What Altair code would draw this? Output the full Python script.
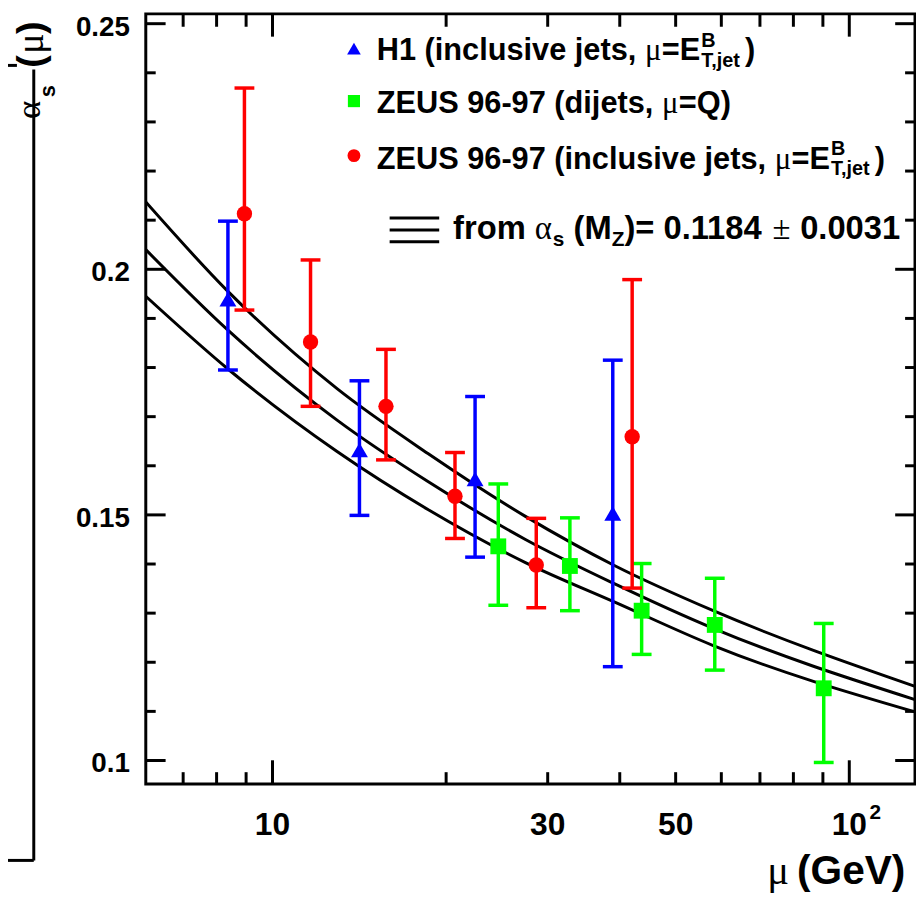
import altair as alt
import pandas as pd

# ---------------- data ----------------
# H1 inclusive jets (blue triangles)
h1_mu = [8.37, 14.15, 22.45, 38.9]
h1_as = [0.1939, 0.1632, 0.1573, 0.1503]
h1_lo = [0.1795, 0.1499, 0.1414, 0.1191]
h1_hi = [0.2098, 0.1773, 0.1741, 0.1815]

# ZEUS 96-97 dijets (green squares)
zd_mu = [24.63, 32.78, 43.65, 58.45, 90.3]
zd_as = [0.1436, 0.1396, 0.1305, 0.1276, 0.1147]
zd_lo = [0.1316, 0.1305, 0.1216, 0.1184, 0.0996]
zd_hi = [0.1563, 0.1494, 0.1401, 0.1371, 0.1279]

# ZEUS 96-97 inclusive jets (red circles)
zi_mu = [8.94, 11.64, 15.73, 20.72, 28.66, 42.03]
zi_as = [0.2113, 0.1852, 0.1721, 0.1538, 0.1398, 0.1659]
zi_lo = [0.1917, 0.1721, 0.1612, 0.1452, 0.1311, 0.1351]
zi_hi = [0.2369, 0.2019, 0.1837, 0.1627, 0.1493, 0.1979]

# running alpha_s band
curve_mu = [6.03, 8.37, 12.94, 18.6, 27.45, 39.3, 58.1, 130.0]
curve_hi = [0.2137, 0.1955, 0.1757, 0.1625, 0.1497, 0.1396, 0.1305, 0.1151]
curve_mid = [0.2040, 0.1876, 0.1693, 0.1568, 0.1450, 0.1359, 0.1269, 0.1124]
curve_lo = [0.1945, 0.1797, 0.1629, 0.1511, 0.1403, 0.1322, 0.1234, 0.1099]

# axes
x_labels = [10, 30, 50, 100]
x_label_text = ["10", "30", "50", "10"]
x_ticks_major = [10, 100]
x_ticks_minor = [7, 8, 9, 20, 30, 40, 50, 60, 70, 80, 90]
y_labels = [0.1, 0.15, 0.2, 0.25]
y_label_text = ["0.1", "0.15", "0.2", "0.25"]
y_ticks_minor = [0.11, 0.12, 0.13, 0.14, 0.16, 0.17, 0.18, 0.19, 0.21, 0.22, 0.23, 0.24]
X_DOM = [6.03, 130.0]
Y_DOM = [0.0952, 0.252]

BLUE, GREEN, RED = "#0000ff", "#00ff00", "#ff0000"

# ---------------- layout ----------------
W, H = 776, 777
OX, OY = 147, 10  # page position of plot origin
SANS = "Liberation Sans"
SERIF = "Liberation Serif"

xs = alt.Scale(type="log", domain=X_DOM, nice=False)
ys = alt.Scale(domain=Y_DOM, nice=False, zero=False)

dummy = pd.DataFrame({"a": [0]})

AB = {" ": 278, "(": 333, ")": 333, ",": 278, "-": 333, ".": 278, "=": 584,
      "B": 722, "E": 667, "G": 778, "H": 722, "M": 833, "Q": 778, "S": 667,
      "T": 611, "U": 722, "V": 667, "Z": 611, "a": 556, "c": 556, "d": 611,
      "e": 556, "f": 333, "i": 278, "j": 278, "l": 278, "m": 889, "n": 611,
      "o": 611, "r": 389, "s": 556, "t": 333, "u": 611, "v": 556}


def wb(s, size):
    return sum(AB.get(c, 556) for c in s) * size / 1000.0


def txt(s, x, y, size, font=SANS, weight="bold", align="left",
        baseline="alphabetic", angle=0):
    kw = dict(font=font, fontSize=size, fontWeight=weight, align=align,
              baseline=baseline, color="black")
    if angle:
        kw["angle"] = angle
    return alt.Chart(dummy).mark_text(**kw).encode(
        x=alt.value(x - OX), y=alt.value(y - OY), text=alt.value(s))


layers = []

# curves
cdf = pd.DataFrame({
    "mu": curve_mu * 3,
    "as": curve_hi + curve_mid + curve_lo,
    "band": ["hi"] * len(curve_mu) + ["mid"] * len(curve_mu) + ["lo"] * len(curve_mu),
})
layers.append(
    alt.Chart(cdf).mark_line(color="black", strokeWidth=3, interpolate="monotone", clip=True).encode(
        x=alt.X("mu:Q", scale=xs, axis=None),
        y=alt.Y("as:Q", scale=ys, axis=None),
        detail="band:N",
    )
)

series = [
    (h1_mu, h1_as, h1_lo, h1_hi, BLUE, "triangle-up", 290),
    (zd_mu, zd_as, zd_lo, zd_hi, GREEN, "square", 256),
    (zi_mu, zi_as, zi_lo, zi_hi, RED, "circle", 240),
]
for mu, a, lo, hi, col, shp, sz in series:
    df = pd.DataFrame({"mu": mu, "as": a, "lo": lo, "hi": hi})
    base = alt.Chart(df)
    layers.append(base.mark_rule(color=col, strokeWidth=3.5).encode(
        x=alt.X("mu:Q", scale=xs, axis=None), y=alt.Y("lo:Q", scale=ys, axis=None), y2="hi:Q"))
    for f in ("lo", "hi"):
        layers.append(base.mark_point(shape="M-1,0L1,0", size=400, filled=False, color=col,
                                      strokeWidth=3.5, opacity=1).encode(
            x=alt.X("mu:Q", scale=xs, axis=None), y=alt.Y(f + ":Q", scale=ys, axis=None)))
    layers.append(base.mark_point(shape=shp, size=sz, filled=True, color=col, opacity=1).encode(
        x=alt.X("mu:Q", scale=xs, axis=None), y=alt.Y("as:Q", scale=ys, axis=None)))


# tick marks (inside the frame)
def yticks(vals, length):
    d = pd.DataFrame({"v": vals})
    out = []
    for x1, x2 in ((0, length), (W - length, W)):
        out.append(alt.Chart(d).mark_rule(color="black", strokeWidth=3).encode(
            y=alt.Y("v:Q", scale=ys, axis=None), x=alt.value(x1), x2=alt.value(x2)))
    return out


def xticks(vals, lb, lt):
    d = pd.DataFrame({"v": vals})
    return [
        alt.Chart(d).mark_rule(color="black", strokeWidth=3).encode(
            x=alt.X("v:Q", scale=xs, axis=None), y=alt.value(H), y2=alt.value(H - lb)),
        alt.Chart(d).mark_rule(color="black", strokeWidth=3).encode(
            x=alt.X("v:Q", scale=xs, axis=None), y=alt.value(0), y2=alt.value(lt)),
    ]


layers += yticks(y_labels, 20)
layers += yticks(y_ticks_minor, 10)
layers += xticks(x_ticks_major, 24, 23)
layers += xticks(x_ticks_minor, 12, 13)

# tick labels
layers.append(alt.Chart(pd.DataFrame({"v": y_labels, "t": y_label_text})).mark_text(
    font=SANS, fontWeight="bold", fontSize=28, align="right", baseline="alphabetic",
    dy=12, color="black").encode(
    y=alt.Y("v:Q", scale=ys, axis=None), x=alt.value(-16), text="t:N"))
layers.append(alt.Chart(pd.DataFrame({"v": x_labels, "t": x_label_text})).mark_text(
    font=SANS, fontWeight="bold", fontSize=32, align="center", baseline="alphabetic",
    color="black").encode(
    x=alt.X("v:Q", scale=xs, axis=None), y=alt.value(838 - OY), text="t:N"))
# superscript of 10^2
layers.append(txt("2", 877, 822, 21))

# axis titles
layers.append(txt("\u03bc", 774, 888, 41, font=SERIF, weight="normal"))
layers.append(txt("(GeV)", 804, 888, 41))
layers.append(txt("\u03b1", 40, 107, 35, font=SERIF, weight="normal", align="center", angle=270))
layers.append(txt("s", 55, 88, 22, align="center", angle=270))
layers.append(txt("(", 43, 58, 38, align="center", angle=270))
layers.append(txt("\u03bc", 43, 40, 38, font=SERIF, weight="normal", align="center", angle=270))
layers.append(txt(")", 43, 24, 38, align="center", angle=270))

# remnants of the neighbouring panel frame
for (x1, y1, x2, y2) in ((34, 66, 34, 864), (8, 864, 34, 864), (8, 62, 17, 62)):
    layers.append(alt.Chart(dummy).mark_rule(color="black", strokeWidth=3).encode(
        x=alt.value(x1 - OX), x2=alt.value(x2 - OX), y=alt.value(y1 - OY), y2=alt.value(y2 - OY)))

# legend
F, FS = 31, 20
MUW = 0.55 * F
for (yb, my, col, shp, sz, pre, tail) in (
        (57, 45, BLUE, "triangle-up", 190, "H1 (inclusive jets, ", "E"),
        (110, 98, GREEN, "square", 150, "ZEUS 96-97 (dijets, ", "Q)"),
        (166, 153, RED, "circle", 170, "ZEUS 96-97 (inclusive jets, ", "E")):
    layers.append(alt.Chart(dummy).mark_point(shape=shp, size=sz, filled=True, color=col, opacity=1).encode(
        x=alt.value(357 - OX), y=alt.value(my - OY)))
    x = 380
    layers.append(txt(pre, x, yb, F)); x += wb(pre, F)
    layers.append(txt("\u03bc", x, yb, F, font=SERIF, weight="normal")); x += MUW
    seg = "=" + tail
    layers.append(txt(seg, x, yb, F)); x += wb(seg, F)
    if tail == "E":
        layers.append(txt("B", x + 1, yb - 14, FS))
        layers.append(txt("T,jet", x + 1, yb + 7, FS))
        x += wb("T,jet", FS) + 4
        layers.append(txt(")", x, yb, F))

# theory legend line
for yy in (216, 228, 240):
    layers.append(alt.Chart(dummy).mark_rule(color="black", strokeWidth=3).encode(
        x=alt.value(393 - OX), x2=alt.value(443 - OX), y=alt.value(yy - OY)))
F4, FS4 = 33, 21
yb = 237
x = 457
layers.append(txt("from", x, yb, F4)); x += wb("from ", F4)
layers.append(txt("\u03b1", x, yb, F4, font=SERIF, weight="normal")); x += 0.55 * F4
layers.append(txt("s", x, yb + 7, FS4)); x += wb("s", FS4) + wb(" ", F4)
layers.append(txt("(M", x, yb, F4)); x += wb("(M", F4)
layers.append(txt("Z", x, yb + 7, FS4)); x += wb("Z", FS4)
layers.append(txt(")= 0.1184", x, yb, F4)); x += wb(")= 0.1184 ", F4)
layers.append(txt("\u00b1", x, yb, F4, font=SERIF, weight="normal")); x += 0.564 * F4 + wb(" ", F4)
layers.append(txt("0.0031", x, yb, F4))

chart = alt.layer(*layers).properties(
    width=W, height=H,
    autosize=alt.AutoSizeParams(type="none"),
    padding={"left": OX - 8, "top": OY - 8, "right": 1, "bottom": 110},
    background="white",
).configure_view(stroke="black", strokeWidth=3)

chart.save("out.html", embed_options={"renderer": "svg", "actions": False})
